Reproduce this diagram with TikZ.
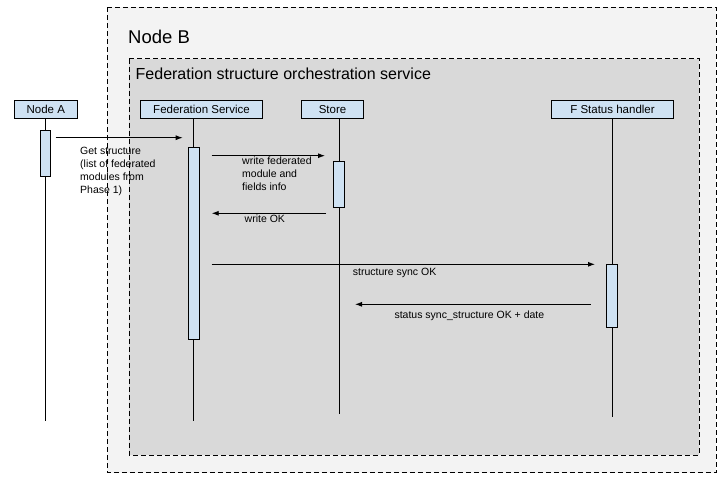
\documentclass[tikz,border=0pt]{standalone}
\usepackage{fontspec}
\setmainfont{Liberation Sans}
\usetikzlibrary{arrows.meta}
\definecolor{outerfill}{HTML}{F3F3F3}
\definecolor{innerfill}{HTML}{D9D9D9}
\definecolor{boxfill}{HTML}{CFE2F3}
\tikzset{
  groupbox/.style={draw=black, line width=0.8pt, dash pattern=on 5pt off 3pt},
  header/.style={draw=black, fill=boxfill, line width=0.8pt, inner sep=0pt, minimum height=17.6pt, font=\fontsize{11.5}{13}\selectfont},
  actbox/.style={draw=black, fill=boxfill, line width=0.8pt, inner sep=0pt},
  lifeline/.style={draw=black, line width=0.9pt},
  msg/.style={draw=black, line width=0.9pt, -{Latex[length=7pt,width=5pt]}},
  msglabel/.style={inner sep=0pt, align=left, font=\fontsize{10.5}{13}\selectfont},
}
\begin{document}
\begin{tikzpicture}[x=1pt,y=-1pt]
\useasboundingbox (0,0) rectangle (721,480);
\fill[white] (0,0) rectangle (721,480);
% group boxes
\path[groupbox, fill=outerfill] (107.3,7.3) rectangle (716,472.7);
\node[anchor=base west, inner sep=0pt, font=\fontsize{18.5}{20}\selectfont] (nodeB) at (128,43.3) {Node B};
\path[groupbox, fill=innerfill] (129.3,58.5) rectangle (699,455);
\node[anchor=base west, inner sep=0pt, font=\fontsize{16}{18}\selectfont] (fso) at (135.5,79) {Federation structure orchestration service};
% headers
\node[header, minimum width=63pt] (hA) at (45.8,109.5) {Node A};
\node[header, minimum width=121.6pt] (hF) at (201.5,109.5) {Federation Service};
\node[header, minimum width=61.6pt] (hS) at (332.5,109.5) {Store};
\node[header, minimum width=121.6pt] (hH) at (612.5,109.5) {F Status handler};
% lifeline ends
\coordinate (eA) at (45,421);
\coordinate (eF) at (193.7,421);
\coordinate (eS) at (339.2,414);
\coordinate (eH) at (612.2,417);
\draw[lifeline] (eA |- hA.south) -- (eA);
\draw[lifeline] (eF |- hF.south) -- (eF);
\draw[lifeline] (eS |- hS.south) -- (eS);
\draw[lifeline] (eH |- hH.south) -- (eH);
% activations
\node[actbox, minimum width=10.7pt, minimum height=46.7pt] (aA) at (45.3,153.3) {};
\node[actbox, minimum width=11pt, minimum height=191.7pt] (aF) at (193.8,243.2) {};
\node[actbox, minimum width=11.4pt, minimum height=46.3pt] (aS) at (339,184.2) {};
\node[actbox, minimum width=11pt, minimum height=63.3pt] (aH) at (612.2,295.7) {};
% messages
\coordinate (m1s) at (55.7,137.7);
\coordinate (m1e) at (182.7,137.7);
\draw[msg] (m1s) -- (m1e);
\node[msglabel, anchor=north west] (l1) at (80,147) {Get structure\\(list of federated\\modules from\\Phase 1)};
\coordinate (m2s) at (211.7,155.7);
\coordinate (m2e) at (325,155.7);
\draw[msg] (m2s) -- (m2e);
\node[msglabel, anchor=north west] (l2) at (242,157) {write federated\\module and\\fields info};
\coordinate (m3s) at (326,213.3);
\coordinate (m3e) at (211.7,213.3);
\draw[msg] (m3s) -- (m3e);
\node[msglabel, anchor=north west] (l3) at (244.5,214.5) {write OK};
\coordinate (m4s) at (211.7,264.3);
\coordinate (m4e) at (595,264.3);
\draw[msg] (m4s) -- (m4e);
\node[msglabel, anchor=north west] (l4) at (352.7,268) {structure sync OK};
\coordinate (m5s) at (590.7,304.3);
\coordinate (m5e) at (355,304.3);
\draw[msg] (m5s) -- (m5e);
\node[msglabel, anchor=north west] (l5) at (394.3,310.5) {status sync\_structure OK + date};
\end{tikzpicture}
\end{document}
